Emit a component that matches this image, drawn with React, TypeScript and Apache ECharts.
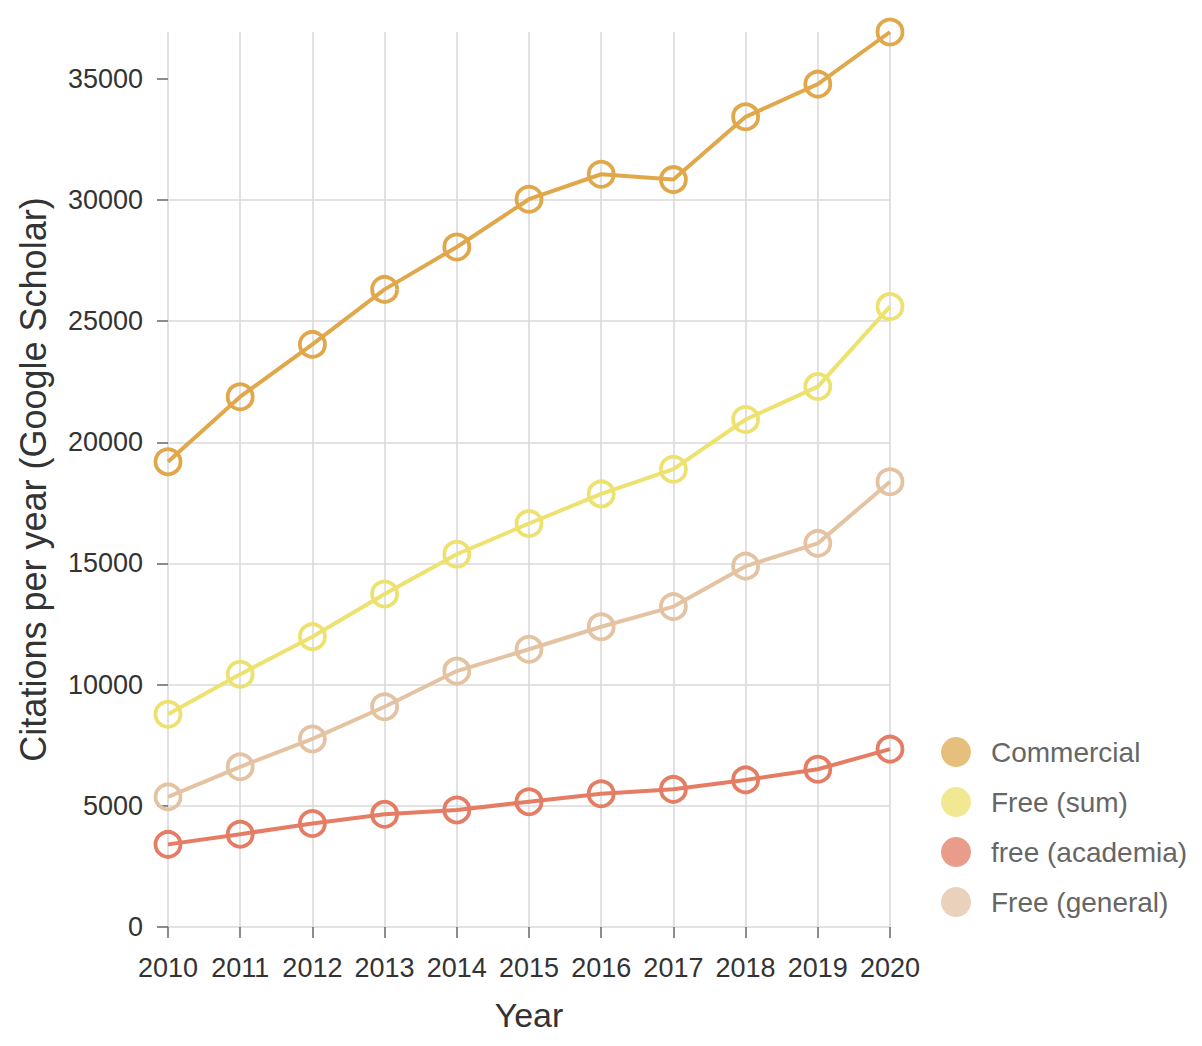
import React, { useEffect, useRef } from "react";
import * as echarts from "echarts";

const years = ["2010", "2011", "2012", "2013", "2014", "2015", "2016", "2017", "2018", "2019", "2020"];
const commercial = [19200, 21880, 24040, 26310, 28060, 30030, 31060, 30840, 33430, 34780, 36930];
const freeSum = [8780, 10430, 11980, 13740, 15380, 16650, 17870, 18890, 20940, 22300, 25600];
const freeAcademia = [3410, 3830, 4270, 4650, 4830, 5170, 5500, 5680, 6070, 6510, 7340];
const freeGeneral = [5370, 6610, 7760, 9090, 10560, 11460, 12390, 13220, 14890, 15830, 18370];
const yTicks = [0, 5000, 10000, 15000, 20000, 25000, 30000, 35000];

const seriesNames = ["Commercial", "Free (sum)", "free (academia)", "Free (general)"];
const lineColors = ["#E0A84B", "#EDE26F", "#E57C64", "#E4C3A3"];
const legendColors = ["#E7BF7C", "#F2E893", "#EA9C8B", "#EAD1BB"];
const seriesData = [commercial, freeSum, freeAcademia, freeGeneral];

const FONT = "'Liberation Sans', Arial, Helvetica, sans-serif";

export default function App() {
  const ref = useRef<HTMLDivElement>(null);
  useEffect(() => {
    if (!ref.current) return;
    const chart = echarts.init(ref.current, null, { renderer: "svg" });
    const gridColor = "#DADADA";
    chart.setOption({
      animation: false,
      backgroundColor: "#ffffff",
      textStyle: { fontFamily: FONT },
      grid: { left: 168, right: 312, top: 32, bottom: 119, containLabel: false },
      legend: {
        orient: "vertical",
        left: 936,
        top: 732,
        itemWidth: 60,
        itemHeight: 30,
        itemGap: 20,
        selectedMode: false,
        textStyle: { fontSize: 28, color: "#666666", fontFamily: FONT, lineHeight: 30 },
        data: seriesNames.map((n, i) => ({
          name: n,
          icon: "circle",
          itemStyle: { color: legendColors[i], borderWidth: 0, borderColor: "transparent", opacity: 1 },
          lineStyle: { width: 0, opacity: 0 },
        })),
      },
      xAxis: {
        type: "category",
        data: years,
        boundaryGap: false,
        name: "Year",
        nameLocation: "middle",
        nameGap: 71,
        nameTextStyle: { fontSize: 34, color: "#333333", fontFamily: FONT },
        axisLine: { show: false },
        axisTick: { show: true, length: 11, interval: 0, lineStyle: { color: "#666666", width: 1.5 } },
        axisLabel: { interval: 0, fontSize: 27, color: "#333333", margin: 27, fontFamily: FONT },
        splitLine: { show: true, interval: 0, lineStyle: { color: gridColor, width: 1.6 } },
      },
      yAxis: {
        type: "value",
        min: 0,
        max: 36930,
        interval: 5000,
        name: "Citations per year (Google Scholar)",
        nameLocation: "middle",
        nameGap: 117,
        nameTextStyle: { fontSize: 36, color: "#333333", fontFamily: FONT },
        axisLine: { show: false },
        axisTick: { show: true, length: 11, customValues: yTicks, lineStyle: { color: "#666666", width: 1.5 } },
        axisLabel: {
          customValues: yTicks,
          fontSize: 27,
          color: "#333333",
          margin: 25,
          fontFamily: FONT,
          formatter: (v: number) => String(v),
        },
        splitLine: { show: true, showMaxLine: false, lineStyle: { color: gridColor, width: 1.6 } },
      },
      series: seriesNames.map((n, i) => ({
        name: n,
        type: "line",
        data: seriesData[i],
        symbol: "circle",
        symbolSize: 25,
        showAllSymbol: true,
        lineStyle: { color: lineColors[i], width: 4 },
        itemStyle: { color: "transparent", borderColor: lineColors[i], borderWidth: 3.8 },
        emphasis: { disabled: true },
      })),
    });
    return () => chart.dispose();
  }, []);
  return (
    <div
      ref={ref}
      style={{ position: "fixed", left: 0, top: 0, width: 1202, height: 1046, background: "#fff" }}
    />
  );
}
